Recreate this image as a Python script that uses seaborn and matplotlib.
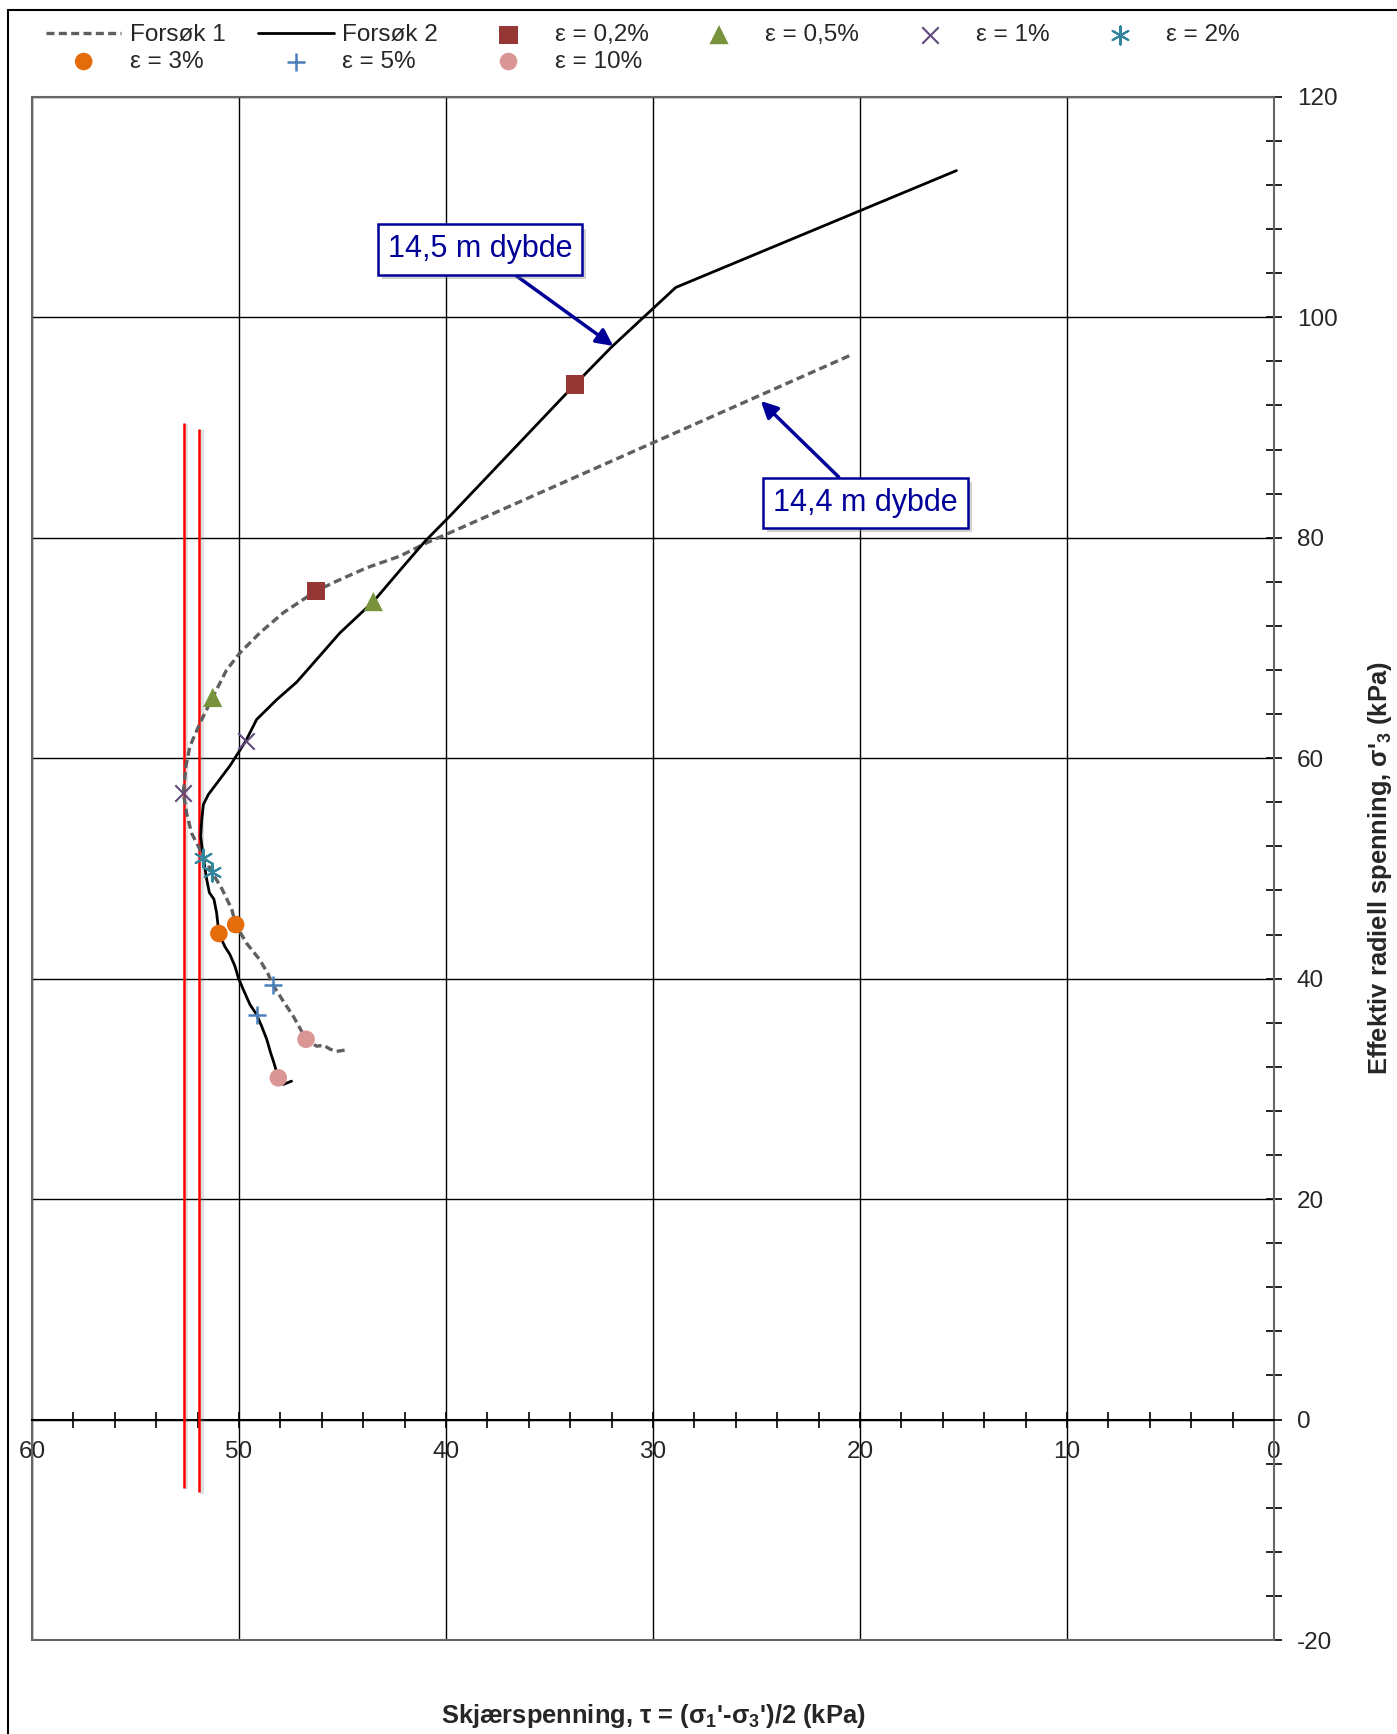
import matplotlib
matplotlib.use("Agg")
import matplotlib.pyplot as plt
import matplotlib.patheffects as pe
from matplotlib.patches import Rectangle
from matplotlib.ticker import MultipleLocator
import seaborn as sns

# Forsøk 1 (14,4 m dybde) - stiplet kurve
f1_tau = [20.52, 39.81, 40.93, 42.22, 43.83, 45.28, 46.30, 46.89, 47.86, 48.99,
          49.95, 50.60, 51.24, 51.88, 52.37, 52.56, 52.69, 52.53, 52.29, 52.05,
          51.32, 50.84, 50.35, 50.16, 49.63, 48.99, 48.58, 48.37, 47.86, 47.38,
          46.76, 46.25, 45.90, 45.60, 45.28, 44.72]
f1_sig = [96.5, 80.45, 79.54, 78.33, 77.27, 76.06, 75.15, 74.4, 73.19, 71.37,
          69.56, 68.0, 65.63, 63.2, 61.08, 59.3, 56.85, 55.0, 53.2, 52.3,
          49.7, 48.2, 46.3, 44.9, 43.2, 41.7, 40.37, 39.46, 37.95, 36.6,
          34.5, 33.87, 33.95, 33.6, 33.4, 33.56]

# Forsøk 2 (14,5 m dybde) - heltrukken kurve
f2_tau = [15.34, 28.9, 32.0, 33.77, 39.81, 41.0, 42.06, 43.51, 45.12, 46.25,
          47.21, 48.18, 49.15, 49.66, 50.03, 50.44, 50.92, 51.48, 51.72, 51.80,
          51.85, 51.72, 51.56, 51.43, 51.21, 51.08, 50.97, 50.68, 50.44, 50.19,
          50.03, 49.79, 49.47, 49.15, 48.91, 48.66, 48.47, 48.31, 48.10, 47.86,
          47.46]
f2_sig = [113.3, 102.7, 97.3, 93.9, 81.96, 79.7, 77.4, 74.2, 71.37, 68.95,
          66.9, 65.3, 63.5, 61.6, 60.5, 59.3, 58.1, 56.7, 55.8, 54.4,
          52.9, 50.95, 49.0, 47.8, 47.2, 45.96, 44.09, 42.9, 42.2, 41.1,
          40.07, 39.0, 37.65, 36.74, 35.7, 34.5, 33.26, 32.35, 31.0, 30.4,
          30.7]

# tøyningsnivåer
eps_labels = ["ε = 0,2%", "ε = 0,5%", "ε = 1%", "ε = 2%", "ε = 3%", "ε = 5%", "ε = 10%"]
eps_tau_f1 = [46.30, 51.27, 52.69, 51.32, 50.16, 48.37, 46.76]
eps_sig_f1 = [75.15, 65.5, 56.85, 49.7, 44.9, 39.46, 34.5]
eps_tau_f2 = [33.77, 43.51, 49.66, 51.72, 50.97, 49.15, 48.10]
eps_sig_f2 = [93.9, 74.2, 61.6, 50.95, 44.09, 36.74, 31.0]

# røde vertikale linjer
red_x = [52.68, 51.93]
red_top = [90.4, 89.9]
red_bottom = [-6.2, -6.6]

eps_style = {
    "ε = 0,2%": dict(marker="s", color="#953735", s=170),
    "ε = 0,5%": dict(marker="^", color="#77933C", s=190),
    "ε = 1%": dict(marker="x", color="#604A7B", s=140, linewidth=1.5),
    "ε = 2%": dict(marker=(6, 2, 0), color="#31859C", s=170, linewidth=1.5),
    "ε = 3%": dict(marker="o", color="#E46C0A", s=160),
    "ε = 5%": dict(marker="+", color="#4A7EBB", s=150, linewidth=1.8),
    "ε = 10%": dict(marker="o", color="#D99694", s=160),
}

sns.set_style("ticks")
plt.rcParams["font.family"] = ["Liberation Sans", "DejaVu Sans"]
plt.rcParams["mathtext.default"] = "regular"
plt.rcParams["axes.unicode_minus"] = False

fig = plt.figure(figsize=(13.97, 17.34), dpi=100)
ax = fig.add_axes([0.0229, 0.0542, 0.889, 0.890])

ax.vlines(red_x, red_bottom, red_top, colors="#FF0000", linewidth=1.8, zorder=3,
          path_effects=[pe.SimpleLineShadow(offset=(2, -1), shadow_color="gray",
                                            alpha=0.25, linewidth=3), pe.Normal()])

sns.lineplot(x=f1_tau, y=f1_sig, sort=False, estimator=None, color="#5f5f5f",
             linewidth=2.4, linestyle=(0, (2.4, 1.3)), label="Forsøk 1", ax=ax, zorder=4)
sns.lineplot(x=f2_tau, y=f2_sig, sort=False, estimator=None, color="black",
             linewidth=2.0, label="Forsøk 2", ax=ax, zorder=4)

for i, lab in enumerate(eps_labels):
    st = dict(eps_style[lab])
    if st["marker"] in ("s", "^", "o"):
        st["edgecolor"] = "none"
    sns.scatterplot(x=[eps_tau_f1[i], eps_tau_f2[i]], y=[eps_sig_f1[i], eps_sig_f2[i]],
                    label=lab, ax=ax, zorder=5, **st)

if ax.get_legend() is not None:
    ax.get_legend().remove()

# akser
ax.set_xlim(60, 0)
ax.set_ylim(-20, 120)
ax.xaxis.set_major_locator(MultipleLocator(10))
ax.xaxis.set_minor_locator(MultipleLocator(2))
ax.yaxis.set_major_locator(MultipleLocator(20))
ax.yaxis.set_minor_locator(MultipleLocator(4))
ax.yaxis.tick_right()
ax.yaxis.set_label_position("right")
ax.spines["bottom"].set_position(("data", 0))
ax.tick_params(which="both", direction="inout", length=11, width=1.2, color="black",
               labelsize=17.5)
ax.tick_params(axis="x", which="both", pad=10)
ax.tick_params(axis="y", which="both", pad=11)
ax.grid(True, which="major", color="black", linewidth=1.0)
ax.set_axisbelow(True)

frame_c = "#666666"
for side in ["top", "left", "right"]:
    ax.spines[side].set_color(frame_c)
    ax.spines[side].set_linewidth(1.5)
ax.spines["bottom"].set_color("black")
ax.spines["bottom"].set_linewidth(1.5)
ax.axhline(-20, color=frame_c, linewidth=1.5, clip_on=False)

ax.set_xlabel("Skjærspenning, τ = (σ$_1$'-σ$_3$')/2 (kPa)", fontsize=18.4, fontweight="bold")
ax.set_ylabel("Effektiv radiell spenning, σ'$_3$ (kPa)", fontsize=18.4, fontweight="bold")
ax.xaxis.set_label_coords(0.5, -0.040)
ax.yaxis.set_label_coords(1.074, 0.5)

# tekstbokser med piler
for txt, tpos, tip in [("14,5 m dybde", (38.36, 106.15), (31.92, 97.4)),
                       ("14,4 m dybde", (19.74, 83.15), (24.79, 92.4))]:
    ann = ax.annotate(txt, xy=tip, xytext=tpos, ha="center", va="center", fontsize=22,
                      color="#000099", zorder=6,
                      bbox=dict(boxstyle="square,pad=0.33", fc="white", ec="#000099", lw=1.8),
                      arrowprops=dict(arrowstyle="-|>", color="#000099", lw=2.5,
                                      mutation_scale=25, shrinkA=0, shrinkB=0))
    ann.get_bbox_patch().set_path_effects(
        [pe.withSimplePatchShadow(offset=(3, -3), shadow_rgbFace="gray", alpha=0.35)])

# legende
handles, labels = ax.get_legend_handles_labels()
lookup = dict(zip(labels, handles))
order = ["Forsøk 1", "ε = 3%", "Forsøk 2", "ε = 5%", "ε = 0,2%", "ε = 10%",
         "ε = 0,5%", "ε = 1%", "ε = 2%"]
fig.legend([lookup[k] for k in order], order, loc="upper left",
           bbox_to_anchor=(46 / 1397, 1 - 24 / 1734), ncols=6, frameon=False,
           fontsize=17.5, handlelength=3.1, handletextpad=0.35, columnspacing=1.35,
           labelspacing=0.2, borderpad=0, borderaxespad=0)

fig.patches.append(Rectangle((8 / 1397, -0.1), 1.2, 1.1 - 10 / 1734, transform=fig.transFigure,
                             fill=False, edgecolor="black", linewidth=1.5))

fig.savefig("out.png", dpi=100)
